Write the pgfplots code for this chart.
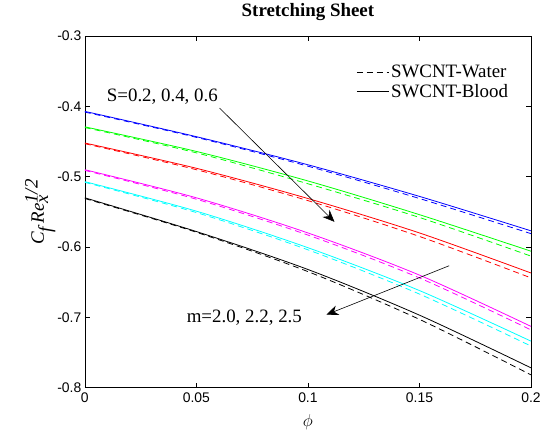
\documentclass[border=0pt]{standalone}
\usepackage{fontspec}
\setmainfont{Liberation Serif}
\setsansfont{Liberation Sans}
\usepackage{pgfplots}
\pgfplotsset{compat=1.18}
\usetikzlibrary{arrows.meta}

\definecolor{mblue}{rgb}{0,0,1}
\definecolor{mgreen}{rgb}{0,1,0}
\definecolor{mred}{rgb}{1,0,0}
\definecolor{mmagenta}{rgb}{1,0,1}
\definecolor{mcyan}{rgb}{0,1,1}

\pgfplotsset{
  sol/.style={line width=0.8pt, smooth, forget plot},
  das/.style={line width=0.8pt, smooth, forget plot, dash pattern=on 6pt off 4pt},
}

\begin{document}
\begin{tikzpicture}
\begin{axis}[
    scale only axis,
    width=447bp, height=352bp,
    xmin=0, xmax=0.2,
    ymin=-0.8, ymax=-0.3,
    xtick={0,0.05,0.1,0.15,0.2},
    xticklabels={0,0.05,0.1,0.15,0.2},
    ytick={-0.8,-0.7,-0.6,-0.5,-0.4,-0.3},
    yticklabels={-0.8,-0.7,-0.6,-0.5,-0.4,-0.3},
    tick align=inside,
    major tick length=5bp,
    tick style={black, line width=0.5pt},
    axis line style={line width=0.6pt},
    ticklabel style={font=\sffamily\fontsize{14}{16}\selectfont},
    xticklabel style={yshift=-2bp},
    title={\bfseries Stretching Sheet},
    title style={font=\fontsize{19}{22}\selectfont, at={(axis description cs:0.5,1.052)}, anchor=center},
    xlabel={$\phi$},
    xlabel style={font=\fontsize{19}{20}\selectfont, at={(axis description cs:0.5,-0.1)}, anchor=center},
    ylabel={\textit{C}$_{\textit{f}}\,$\textit{Re}$_{\textit{x}}^{\textit{1/2}}$},
    ylabel style={font=\fontsize{19}{20}\selectfont, at={(axis description cs:-0.1,0.5)}, anchor=center},
    legend style={draw=none, fill=none, font=\fontsize{19}{22}\selectfont,
      at={(0.96,0.93)}, anchor=north east, row sep=1pt},
    legend cell align=left,
    legend image code/.code={\draw[#1] (0bp,0bp) -- (32bp,0bp);},
]

\addlegendimage{black, line width=0.8pt, dash pattern=on 6pt off 4pt}
\addlegendentry{SWCNT-Water}
\addlegendimage{black, line width=0.8pt}
\addlegendentry{SWCNT-Blood}

% SWCNT-Blood (solid)
\addplot[sol, mblue] coordinates {(0,-0.407) (0.05,-0.443) (0.1,-0.483) (0.15,-0.528) (0.2,-0.577)};
\addplot[sol, mgreen] coordinates {(0,-0.429) (0.05,-0.464) (0.1,-0.506) (0.15,-0.554) (0.2,-0.606)};
\addplot[sol, mred] coordinates {(0,-0.452) (0.05,-0.488) (0.1,-0.531) (0.15,-0.580) (0.2,-0.637)};
\addplot[sol, mmagenta] coordinates {(0,-0.490) (0.05,-0.530) (0.1,-0.580) (0.15,-0.640) (0.2,-0.713)};
\addplot[sol, mcyan] coordinates {(0,-0.507) (0.05,-0.549) (0.1,-0.601) (0.15,-0.662) (0.2,-0.734)};
\addplot[sol, black] coordinates {(0,-0.530) (0.05,-0.578) (0.1,-0.632) (0.15,-0.697) (0.2,-0.772)};

% SWCNT-Water (dashed)
\addplot[das, mblue] coordinates {(0,-0.408) (0.05,-0.444) (0.1,-0.485) (0.15,-0.531) (0.2,-0.581)};
\addplot[das, mgreen] coordinates {(0,-0.430) (0.05,-0.466) (0.1,-0.510) (0.15,-0.558) (0.2,-0.613)};
\addplot[das, mred] coordinates {(0,-0.453) (0.05,-0.490) (0.1,-0.534) (0.15,-0.585) (0.2,-0.644)};
\addplot[das, mmagenta] coordinates {(0,-0.491) (0.05,-0.532) (0.1,-0.583) (0.15,-0.644) (0.2,-0.718)};
\addplot[das, mcyan] coordinates {(0,-0.508) (0.05,-0.551) (0.1,-0.604) (0.15,-0.667) (0.2,-0.741)};
\addplot[das, black] coordinates {(0,-0.531) (0.05,-0.579) (0.1,-0.635) (0.15,-0.703) (0.2,-0.782)};

% annotations
\node[anchor=west, font=\fontsize{19}{22}\selectfont, inner sep=0pt] at (axis cs:0.0098,-0.3867) {S=0.2, 0.4, 0.6};
\draw[line width=0.6pt, -{Stealth[length=12pt, width=10pt]}] (axis cs:0.0604,-0.4023) -- (axis cs:0.1119,-0.5642);
\node[anchor=west, font=\fontsize{19}{22}\selectfont, inner sep=0pt] at (axis cs:0.0456,-0.7006) {m=2.0, 2.2, 2.5};
\draw[line width=0.6pt, -{Stealth[length=12pt, width=10pt]}] (axis cs:0.1633,-0.6267) -- (axis cs:0.1083,-0.6963);
\end{axis}
\path ([xshift=-85bp,yshift=-58bp]current axis.south west) rectangle ([xshift=12bp,yshift=31bp]current axis.north east);
\end{tikzpicture}
\end{document}
